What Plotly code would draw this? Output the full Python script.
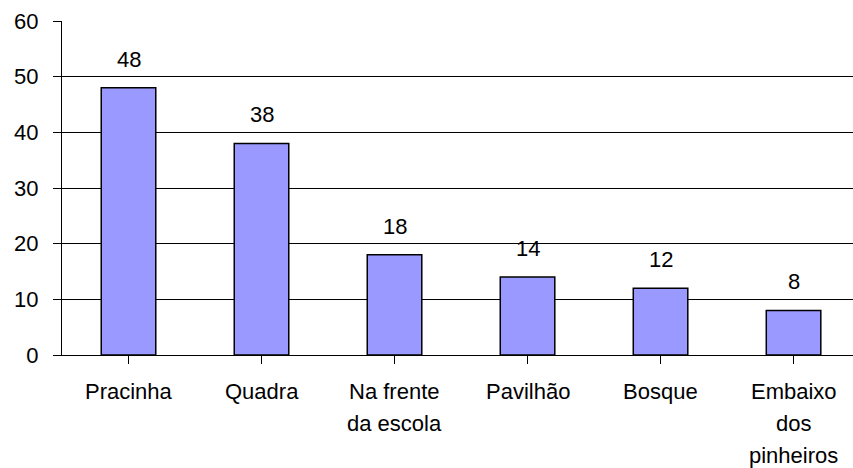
import plotly.graph_objects as go

categories = ["Pracinha", "Quadra", "Na frente da escola", "Pavilhão", "Bosque", "Embaixo dos pinheiros"]
label_lines = [["Pracinha"], ["Quadra"], ["Na frente", "da escola"], ["Pavilhão"], ["Bosque"], ["Embaixo", "dos", "pinheiros"]]
values = [48, 38, 18, 14, 12, 8]
y_ticks = [0, 10, 20, 30, 40, 50, 60]

FONT = "Liberation Sans, Arial, sans-serif"
FS = 22
x_idx = list(range(len(categories)))

fig = go.Figure()
fig.add_trace(go.Bar(
    x=x_idx, y=values, width=0.41,
    marker=dict(color="#9999FF", line=dict(color="black", width=1.5)),
    hoverinfo="skip",
))

annotations = []
for i, v in enumerate(values):
    annotations.append(dict(x=i, y=v, xref="x", yref="y", text=str(v), showarrow=False,
                            yanchor="bottom", yshift=14, font=dict(family=FONT, size=FS, color="black")))
for i, lines in enumerate(label_lines):
    for j, t in enumerate(lines):
        annotations.append(dict(x=i, y=0, xref="x", yref="paper", text=t, showarrow=False,
                                yanchor="middle", yshift=-(36 + 32 * j),
                                font=dict(family=FONT, size=FS, color="black")))

fig.update_layout(
    width=853, height=468,
    margin=dict(l=62, r=0, t=21, b=113),
    paper_bgcolor="white", plot_bgcolor="white",
    showlegend=False,
    font=dict(family=FONT, size=FS, color="black"),
    annotations=annotations,
    xaxis=dict(
        range=[-0.5, 5.447], tickmode="array", tickvals=x_idx, ticktext=[""] * len(x_idx),
        tickson="boundaries", ticks="outside", ticklen=8, tickcolor="black", tickwidth=1,
        showline=True, linecolor="black", linewidth=1, showgrid=False, zeroline=False,
        showticklabels=False, automargin=False,
    ),
    yaxis=dict(
        range=[0, 60], tickmode="array", tickvals=y_ticks,
        ticks="outside", ticklen=8, tickcolor="black", tickwidth=1,
        showline=True, linecolor="black", linewidth=1,
        showgrid=True, gridcolor="black", gridwidth=1, zeroline=False,
        tickfont=dict(family=FONT, size=FS, color="black"),
        ticklabelstandoff=10, automargin=False,
    ),
)

fig.write_html("out.html", config={"displayModeBar": False},
               post_script="document.body.style.margin='0';document.body.style.overflow='hidden';")
